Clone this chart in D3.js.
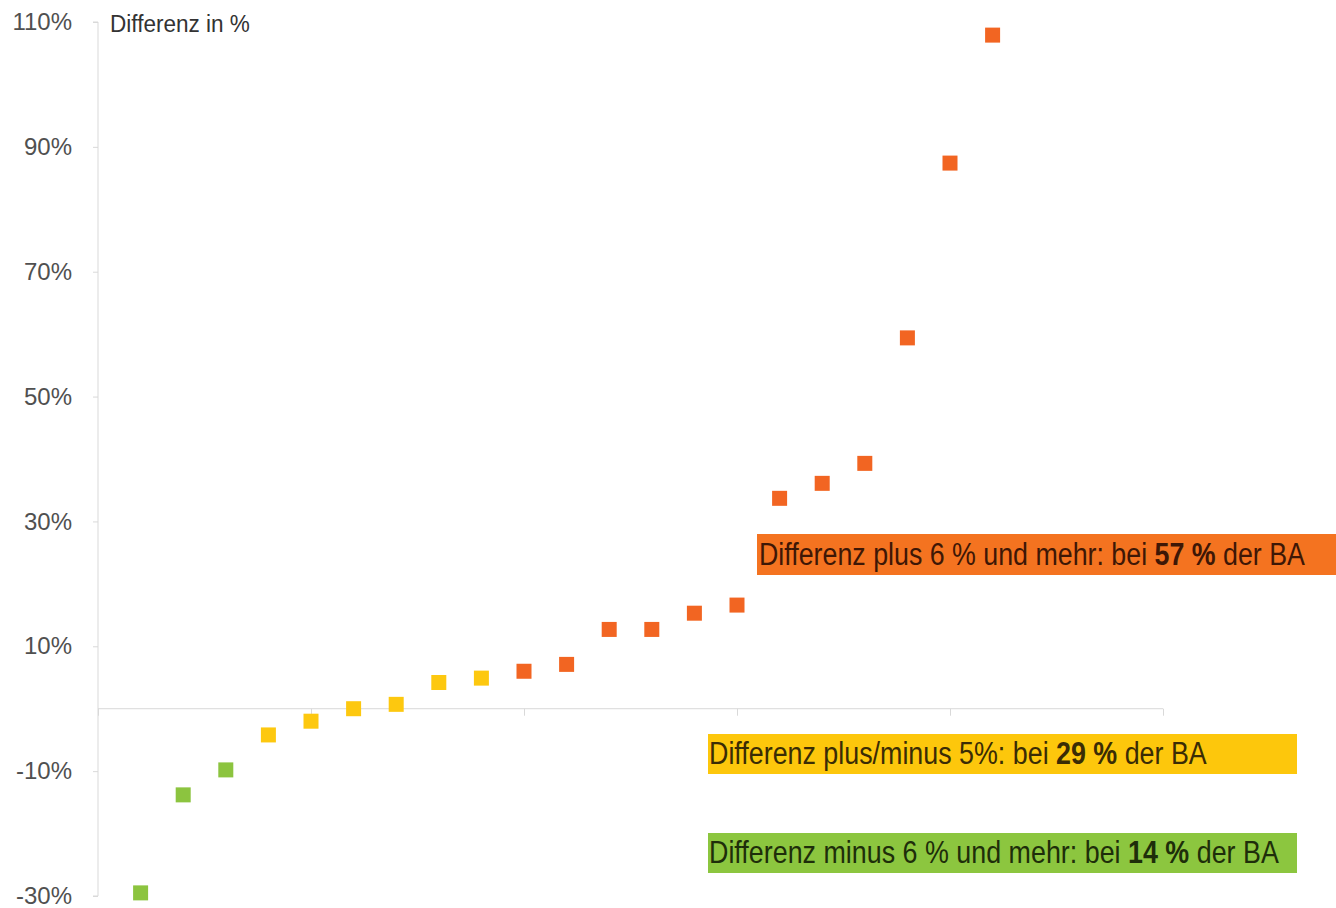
<!DOCTYPE html>
<html>
<head>
<meta charset="utf-8">
<script src="https://cdn.jsdelivr.net/npm/d3@7"></script>
<style>
  body { margin: 0; background: #fff; }
  svg text { font-family: "Liberation Sans", Arial, sans-serif; }
</style>
</head>
<body>
<div id="chart"></div>
<script>
// Differenz je BA, sortiert
const positions = d3.range(1, 22);
const values = [-29.5, -13.8, -9.8, -4.2, -2.0, 0.0, 0.7, 4.2, 4.9, 6.0, 7.1,
                12.7, 12.7, 15.3, 16.6, 33.7, 36.1, 39.3, 59.4, 87.4, 107.9];
const groups = ["minus", "minus", "minus",
                "mitte", "mitte", "mitte", "mitte", "mitte", "mitte",
                "plus", "plus", "plus", "plus", "plus", "plus",
                "plus", "plus", "plus", "plus", "plus", "plus"];
const yTicks = [-30, -10, 10, 30, 50, 70, 90, 110];
const xTicks = [0, 5, 10, 15, 20, 25];
const groupColors = {minus: "#8cc43f", mitte: "#fdc80f", plus: "#f26522"};
const boxColors = {minus: "#8cc63f", mitte: "#fdc70c", plus: "#f47320"};
const textColors = {minus: "#1e2e0a", mitte: "#3a2c05", plus: "#3e1706"};
const labelGroups = ["plus", "mitte", "minus"];
const labelPre = ["Differenz plus 6 % und mehr: bei ", "Differenz plus/minus 5%: bei ", "Differenz minus 6 % und mehr: bei "];
const labelShare = ["57 %", "29 %", "14 %"];
const labelPost = [" der BA", " der BA", " der BA"];

const width = 1336, height = 908;
const svg = d3.select("#chart").append("svg")
    .attr("width", width)
    .attr("height", height);

const x = d3.scaleLinear().domain([0, 25]).range([98, 1163]);
const y = d3.scaleLinear().domain([-30, 110]).range([896, 22]);

// squeeze a text horizontally to a given width (narrow font look)
function fitWidth(sel, x0, y0, w) {
    const bw = sel.node().getComputedTextLength();
    sel.attr("x", 0).attr("y", 0)
       .attr("transform", `translate(${x0},${y0}) scale(${w / bw},1)`);
}

// y axis
const yAxis = svg.append("g")
    .attr("transform", `translate(${x(0)},0)`)
    .call(d3.axisLeft(y).tickValues(yTicks).tickSize(5).tickPadding(21)
        .tickFormat(d => d + "%"));
yAxis.select(".domain").attr("stroke", "#d9d9d9").attr("d", `M-5,${y(110)}H0V${y(-30)}H-5`);
yAxis.selectAll(".tick line").attr("stroke", "#d9d9d9");
yAxis.selectAll(".tick text").attr("fill", "#505050").style("font-size", "24px");

// x axis (Nulllinie)
const xAxis = svg.append("g")
    .attr("transform", `translate(0,${y(0)})`)
    .call(d3.axisBottom(x).tickValues(xTicks).tickSize(7).tickFormat(""));
xAxis.select(".domain").attr("stroke", "#d9d9d9").attr("d", `M${x(0)},0H${x(25)}`);
xAxis.selectAll(".tick line").attr("stroke", "#d9d9d9");

const title = svg.append("text")
    .attr("fill", "#333")
    .style("font-size", "24px")
    .text("Differenz in %");
fitWidth(title, 110, 32, 140);

// points
const sq = 15;
svg.append("g")
    .selectAll("rect")
    .data(values)
    .join("rect")
    .attr("x", (d, i) => x(positions[i]) - sq / 2)
    .attr("y", d => y(d) - sq / 2)
    .attr("width", sq)
    .attr("height", sq)
    .attr("fill", (d, i) => groupColors[groups[i]]);

// label boxes
const boxes = [
    {x: 757, y: 534, w: 600, h: 41, tx: 759, base: 565, tw: 546},
    {x: 708, y: 734, w: 589, h: 40, tx: 709, base: 764, tw: 498},
    {x: 708, y: 833, w: 589, h: 40, tx: 709, base: 863, tw: 570}
];
labelGroups.forEach((g, i) => {
    const b = boxes[i];
    svg.append("rect")
        .attr("x", b.x).attr("y", b.y)
        .attr("width", b.w).attr("height", b.h)
        .attr("fill", boxColors[g]);
    const t = svg.append("text")
        .attr("fill", textColors[g])
        .style("font-size", "31px");
    t.append("tspan").text(labelPre[i]);
    t.append("tspan").attr("font-weight", "bold").text(labelShare[i]);
    t.append("tspan").text(labelPost[i]);
    fitWidth(t, b.tx, b.base, b.tw);
});
</script>
</body>
</html>
